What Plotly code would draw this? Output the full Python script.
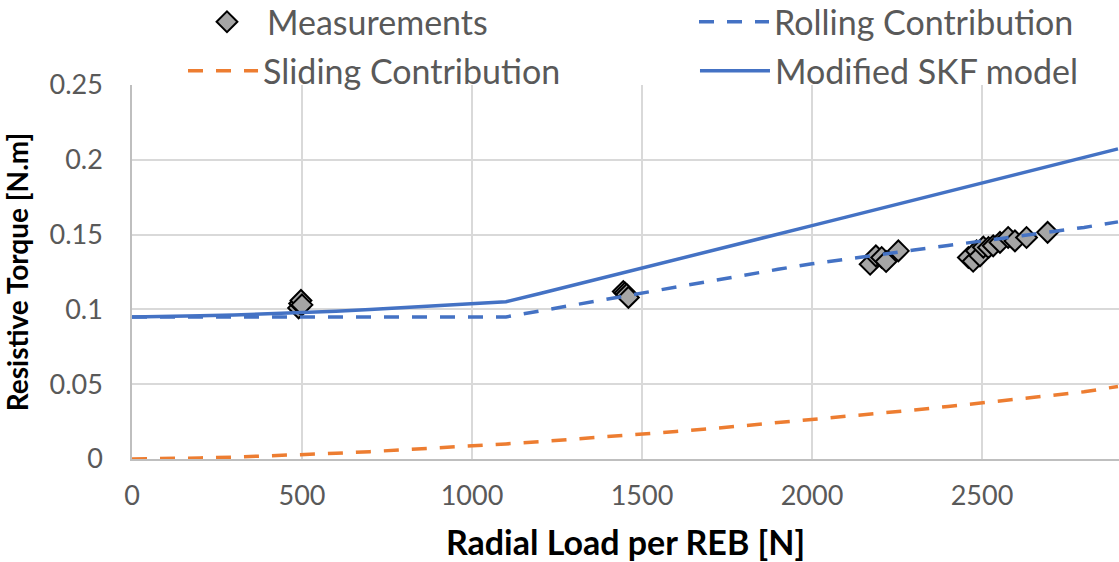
import plotly.graph_objects as go

# Model curves (sampled every 100 N)
load_model = [0, 100, 200, 300, 400, 500, 600, 700, 800, 900, 1000, 1100, 1200, 1300, 1400,
              1500, 1600, 1700, 1800, 1900, 2000, 2100, 2200, 2300, 2400, 2500, 2600, 2700,
              2800, 2900]
rolling = [0.095, 0.095, 0.095, 0.095, 0.095, 0.095, 0.095, 0.095, 0.095, 0.095, 0.095, 0.095,
           0.099, 0.103, 0.107, 0.1113, 0.1153, 0.1192, 0.123, 0.1268, 0.1305, 0.1337, 0.1367,
           0.1397, 0.1427, 0.1456, 0.1486, 0.1516, 0.1548, 0.1585]
sliding = [0.0, 0.0002, 0.0007, 0.0013, 0.0020, 0.0029, 0.0038, 0.0049, 0.0061, 0.0073, 0.0086,
           0.0101, 0.0116, 0.0132, 0.0148, 0.0165, 0.0184, 0.0202, 0.0222, 0.0242, 0.0262,
           0.0284, 0.0305, 0.0327, 0.0351, 0.0374, 0.0399, 0.0424, 0.0449, 0.0485]
skf_model = [0.095, 0.0952, 0.0957, 0.0963, 0.097, 0.0979, 0.0988, 0.0999, 0.1011, 0.1023, 0.1036,
             0.1051, 0.1106, 0.1162, 0.1218, 0.1275, 0.1332, 0.1389, 0.1446, 0.1503, 0.156,
             0.1617, 0.1674, 0.1731, 0.1788, 0.1845, 0.1902, 0.1959, 0.2016, 0.2073]

# Measurements
meas_load = [490, 493, 497, 500, 1445, 1450, 1455, 1460, 2171, 2188, 2205, 2218, 2254,
             2460, 2474, 2484, 2494, 2504, 2519, 2533, 2553, 2577, 2597, 2631, 2693]
meas_torque = [0.101, 0.104, 0.106, 0.103, 0.112, 0.111, 0.110, 0.108, 0.1302, 0.1358, 0.1347,
               0.132, 0.1391, 0.1347, 0.1322, 0.1391, 0.1358, 0.1416, 0.1414, 0.1425, 0.1448,
               0.1481, 0.1458, 0.1481, 0.1515]

x_ticks = [0, 500, 1000, 1500, 2000, 2500]
y_ticks = [0, 0.05, 0.1, 0.15, 0.2, 0.25]

BLUE = "#4472C4"
ORANGE = "#ED7D31"
FONT = "Lato"

fig = go.Figure()
fig.add_trace(go.Scatter(x=meas_load, y=meas_torque, mode="markers", name="Measurements",
                         marker=dict(symbol="diamond", size=16, color="#A5A5A5",
                                     line=dict(color="black", width=2)),
                         legend="legend", showlegend=True))
fig.add_trace(go.Scatter(x=load_model, y=rolling, mode="lines", name="Rolling Contribution",
                         line=dict(color=BLUE, width=3.5, dash="15px,13px"),
                         legend="legend2", showlegend=True))
fig.add_trace(go.Scatter(x=load_model, y=sliding, mode="lines", name="Sliding Contribution",
                         line=dict(color=ORANGE, width=3.5, dash="15px,13px"),
                         legend="legend3", showlegend=True))
fig.add_trace(go.Scatter(x=load_model, y=skf_model, mode="lines", name="Modified SKF model",
                         line=dict(color=BLUE, width=3.5),
                         legend="legend4", showlegend=True))

legend_common = dict(orientation="h", xanchor="left", yanchor="middle",
                     font=dict(family=FONT, size=34, color="#595959"),
                     bgcolor="rgba(0,0,0,0)", itemwidth=70)

fig.update_layout(
    width=1119, height=562,
    showlegend=True,
    margin=dict(l=132, r=0, t=85, b=103, autoexpand=False),
    plot_bgcolor="white", paper_bgcolor="white",
    font=dict(family=FONT, color="#595959"),
    legend=dict(x=0.0557, y=1.168, **legend_common),
    legend2=dict(x=0.5694, y=1.168, **legend_common),
    legend3=dict(x=0.0517, y=1.037, **legend_common),
    legend4=dict(x=0.5704, y=1.037, **legend_common),
    xaxis=dict(range=[0, 2903], tickvals=x_ticks, showgrid=True, gridcolor="#D9D9D9",
               gridwidth=1.5, showline=True, linecolor="#BFBFBF", linewidth=1.5,
               zeroline=False, ticks="", ticklabelstandoff=12,
               tickfont=dict(family=FONT, size=27, color="#595959"),
               title=dict(text="<b>Radial Load per REB [N]</b>", standoff=30,
                          font=dict(family=FONT, size=34, color="black"))),
    yaxis=dict(range=[0, 0.25], tickvals=y_ticks, showgrid=True, gridcolor="#D9D9D9",
               gridwidth=1.5, showline=True, linecolor="#BFBFBF", linewidth=1.5,
               zeroline=False, ticks="", ticklabelstandoff=22,
               tickfont=dict(family=FONT, size=27, color="#595959"),
               title=dict(text="<b>Resistive Torque [N.m]</b>", standoff=29,
                          font=dict(family=FONT, size=28, color="black"))),
)

fig.write_html("out.html", config={"displayModeBar": False},
               post_script="document.body.style.margin='0px';document.body.style.overflow='hidden';")
